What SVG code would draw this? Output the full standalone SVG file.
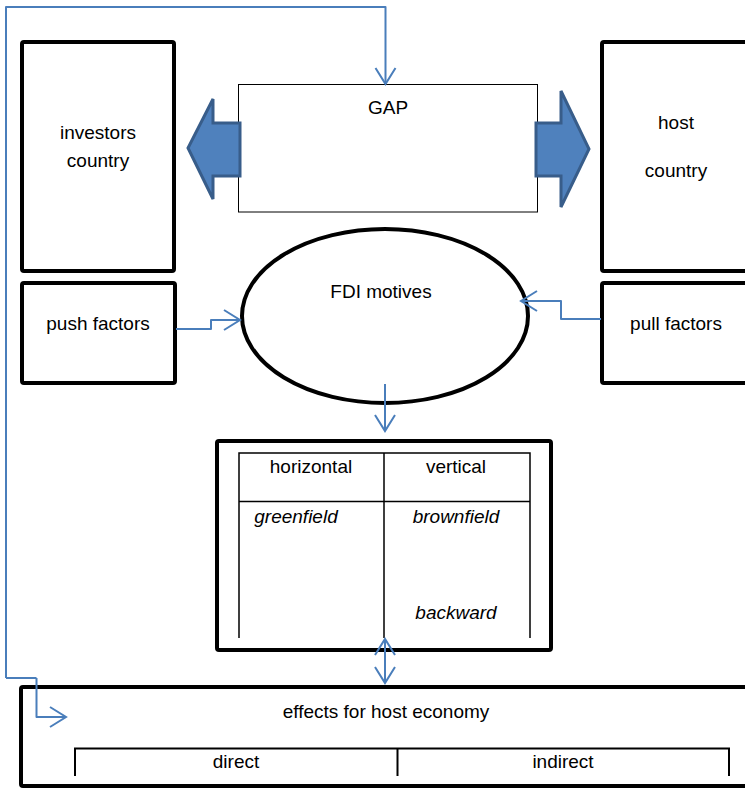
<svg xmlns="http://www.w3.org/2000/svg" width="745" height="789" viewBox="0 0 745 789">
<style>
.box{fill:#fff;stroke:#000;stroke-width:4}
.thin{fill:none;stroke:#000;stroke-width:1.5}
.conn{fill:none;stroke:#4a7ebb;stroke-width:2;stroke-linejoin:round}
.blk{fill:#4f81bd;stroke:#385d8a;stroke-width:3;stroke-linejoin:miter}
text{font-family:"Liberation Sans",Arial,sans-serif;font-size:19px;fill:#000;text-anchor:middle}
.it{font-style:italic}
</style>
<defs>
<marker id="ah" markerUnits="userSpaceOnUse" markerWidth="40" markerHeight="40" viewBox="-20 -20 40 40" refX="0" refY="0" orient="auto-start-reverse">
<path d="M-16,-10 L0,0 L-16,10" fill="none" stroke="#4a7ebb" stroke-width="2"/>
</marker>
</defs>
<rect width="745" height="789" fill="#fff"/>
<g id="investors">
<rect class="box" x="22" y="42" width="152" height="229" rx="2"/>
<text x="98" y="139">investors</text>
<text x="98" y="167">country</text>
</g>
<g id="host">
<rect class="box" x="602" y="42" width="160" height="229" rx="2"/>
<text x="676" y="129">host</text>
<text x="676" y="177">country</text>
</g>
<g id="gap">
<rect x="238.5" y="84.5" width="299" height="127.5" fill="#fff" stroke="#000" stroke-width="1"/>
<text x="388" y="114">GAP</text>
</g>
<g id="arrow-left">
<polygon class="blk" points="240,123 213,123 213,99 188,148 213,199 213,176 240,176"/>
</g>
<g id="arrow-right">
<polygon class="blk" points="536,123 561,123 561,91 589,149 561,207 561,176 536,176"/>
</g>
<g id="push">
<rect class="box" x="22" y="283" width="153" height="100" rx="2"/>
<text x="98" y="330">push factors</text>
</g>
<g id="pull">
<rect class="box" x="602" y="283" width="160" height="100" rx="2"/>
<text x="676" y="330">pull factors</text>
</g>
<g id="fdi">
<ellipse cx="385" cy="316" rx="143" ry="87" fill="#fff" stroke="#000" stroke-width="4"/>
<text x="381" y="298">FDI motives</text>
</g>
<g id="types">
<rect class="box" x="217" y="441" width="334" height="209" rx="2"/>
<path class="thin" d="M239,638 V453 H530 V638 M239,501.5 H530 M384,453 V638"/>
<text x="311" y="473">horizontal</text>
<text x="456" y="473">vertical</text>
<text class="it" x="296" y="523">greenfield</text>
<text class="it" x="456" y="523">brownfield</text>
<text class="it" x="456" y="619">backward</text>
</g>
<g id="effects">
<rect class="box" x="21" y="687" width="745" height="99" rx="2"/>
<path fill="none" stroke="#000" stroke-width="2" d="M75,776 V748.5 H729 V776 M397.5,748.5 V776"/>
<text x="386" y="718">effects for host economy</text>
<text x="236" y="768">direct</text>
<text x="563" y="768">indirect</text>
</g>
<g id="connectors">
<path class="conn" marker-end="url(#ah)" d="M36.5,678 V717 H66"/>
<path class="conn" marker-end="url(#ah)" d="M6,678 V7 H385.5 V84"/>
<path class="conn" d="M6,678 H36.5"/>
<path class="conn" marker-end="url(#ah)" d="M176,329 H211 V320 H240"/>
<path class="conn" marker-end="url(#ah)" d="M601,319 H561 V301 H521"/>
<path class="conn" marker-end="url(#ah)" d="M385,384 V431"/>
<path class="conn" marker-start="url(#ah)" marker-end="url(#ah)" d="M385,639 V683"/>
</g>
</svg>
